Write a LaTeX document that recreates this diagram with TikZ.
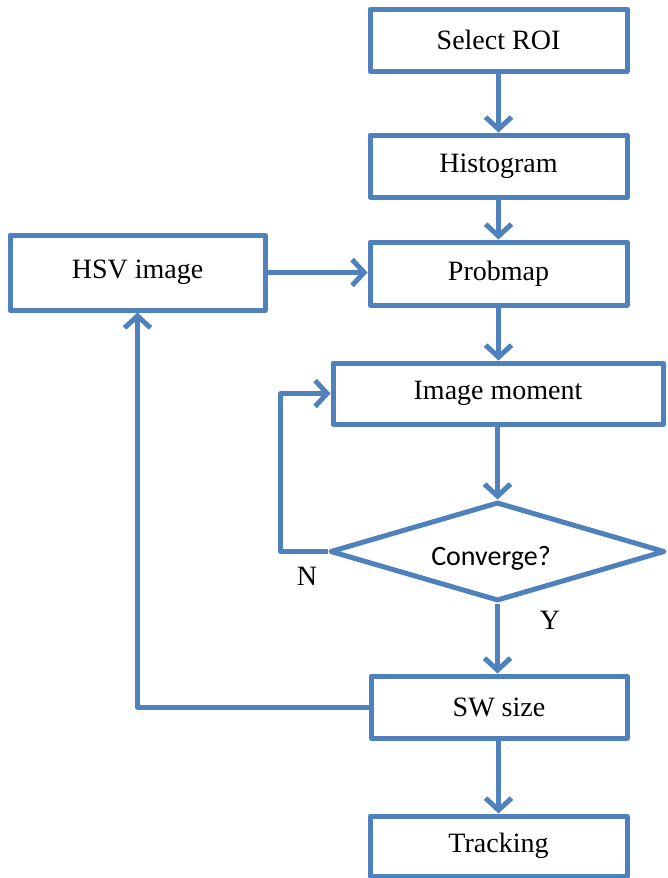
\documentclass[tikz,border=0pt]{standalone}
\usepackage{fontspec}
\setmainfont{Liberation Serif}
\newfontfamily\calfont{Carlito}
\usetikzlibrary{shapes.geometric,arrows.meta}
\definecolor{flowblue}{HTML}{4F81BD}
\begin{document}
\begin{tikzpicture}[x=1pt,y=-1pt,
  every node/.style={font=\fontsize{28}{32}\selectfont},
  box/.style={draw=flowblue,line width=5pt,line join=round,rectangle,inner sep=0pt,fill=white},
  dia/.style={draw=flowblue,line width=5pt,line join=round,diamond,inner sep=0pt,minimum width=335pt,minimum height=99pt},
  conn/.style={draw=flowblue,line width=5pt,line join=round,-{Straight Barb[length=12pt,width=26pt,line width=5pt]}}]
\useasboundingbox[fill=white] (0,0) rectangle (667,878);
\node[box,minimum width=257pt,minimum height=62pt] (roi) at (498.5,40) {Select ROI};
\node[box,minimum width=257pt,minimum height=62pt] (hist) at (498.5,166) {Histogram};
\node[box,minimum width=257pt,minimum height=63pt] (prob) at (498.5,273.5) {Probmap};
\node[box,minimum width=255pt,minimum height=75pt] (hsv) at (137.5,272.5) {HSV image};
\node[box,minimum width=330pt,minimum height=61pt] (imom) at (498,393.5) {Image moment};
\node[dia] (conv) at (497.5,551.5) {};
\node[font=\calfont\fontsize{28}{32}\selectfont] (convtext) at (491,558) {Converge?};
\node[box,minimum width=256pt,minimum height=62pt] (sw) at (499,707) {SW size};
\node[box,minimum width=257pt,minimum height=60pt] (trk) at (498.5,846) {Tracking};
\node (nlab) at (307,576) {N};
\node (ylab) at (550,620) {Y};
\draw[conn] (roi) -- (hist);
\draw[conn] (hist) -- (prob);
\draw[conn] (hsv.east) -- (hsv.east -| prob.west);
\draw[conn] (prob.south) -- (prob.south |- imom.north);
\draw[conn] (imom.south -| conv.north) -- (conv.north);
\draw[conn] (conv.west) -- ++(-47,0) |- (imom.west);
\draw[conn] (conv.south) -- (conv.south |- sw.north);
\draw[conn] (sw.west) -| (hsv.south);
\draw[conn] (sw.south -| trk.north) -- (trk.north);
\end{tikzpicture}
\end{document}
